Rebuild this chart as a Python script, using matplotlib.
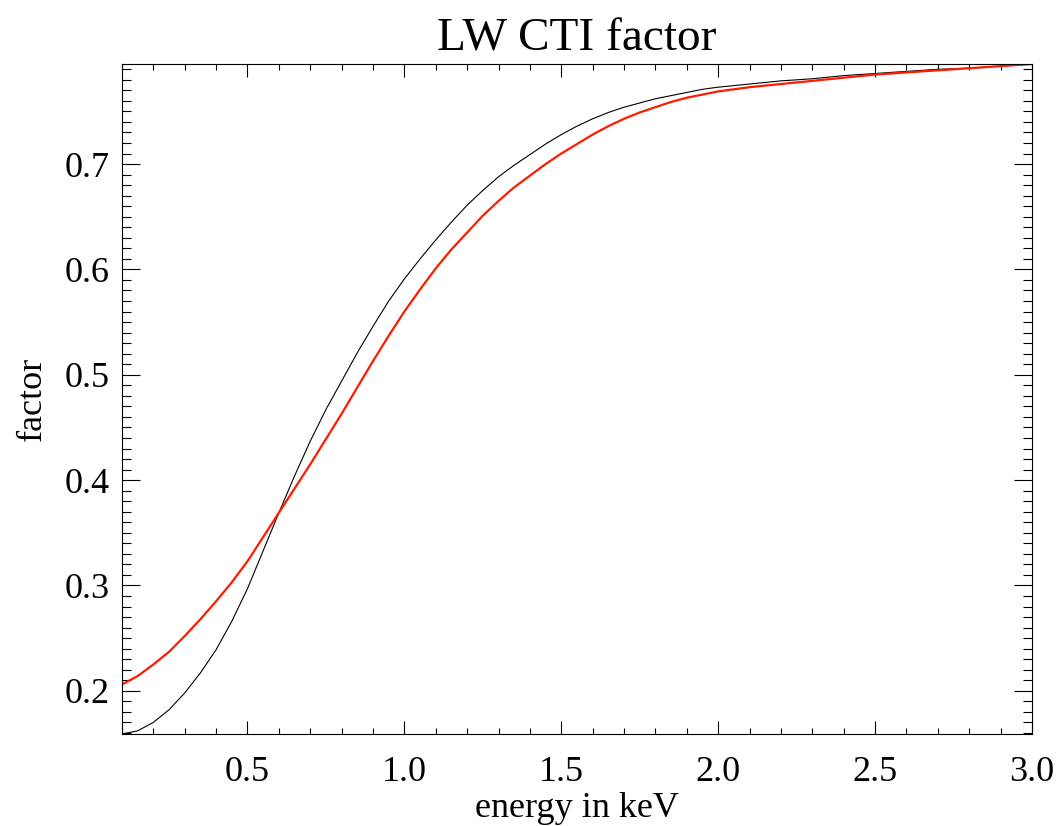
import matplotlib
matplotlib.use("Agg")
import matplotlib.pyplot as plt
from matplotlib.ticker import MultipleLocator, FormatStrFormatter

## Data (0.05 keV steps up to 2 keV, then 0.1)
energy = [0.10, 0.15, 0.20, 0.25, 0.30, 0.35, 0.40, 0.45, 0.50, 0.55,
          0.60, 0.65, 0.70, 0.75, 0.80, 0.85, 0.90, 0.95, 1.00, 1.05,
          1.10, 1.15, 1.20, 1.25, 1.30, 1.35, 1.40, 1.45, 1.50, 1.55,
          1.60, 1.65, 1.70, 1.75, 1.80, 1.85, 1.90, 1.95, 2.00, 2.10,
          2.20, 2.30, 2.40, 2.50, 2.60, 2.70, 2.80, 2.90, 3.00]
factor_black = [0.159, 0.162, 0.170, 0.182, 0.198, 0.217, 0.239, 0.266, 0.297, 0.333,
                0.369, 0.404, 0.437, 0.467, 0.494, 0.521, 0.546, 0.570, 0.591, 0.610,
                0.628, 0.645, 0.661, 0.675, 0.688, 0.699, 0.709, 0.719, 0.728, 0.736,
                0.743, 0.749, 0.754, 0.758, 0.762, 0.765, 0.768, 0.771, 0.773, 0.776,
                0.779, 0.781, 0.784, 0.786, 0.788, 0.790, 0.791, 0.793, 0.795]
factor_red = [0.206, 0.214, 0.225, 0.237, 0.252, 0.268, 0.285, 0.303, 0.323, 0.346,
              0.369, 0.392, 0.415, 0.439, 0.463, 0.488, 0.513, 0.537, 0.560, 0.581,
              0.601, 0.619, 0.635, 0.651, 0.665, 0.678, 0.689, 0.700, 0.710, 0.719,
              0.728, 0.736, 0.743, 0.749, 0.754, 0.759, 0.763, 0.766, 0.769, 0.773,
              0.776, 0.779, 0.782, 0.785, 0.787, 0.789, 0.791, 0.793, 0.795]

plt.rcParams['font.family'] = ['Liberation Serif', 'DejaVu Serif']

fig = plt.figure(figsize=(10.57, 8.26), dpi=100)
ax = fig.add_axes([0.1154, 0.1114, 0.8609, 0.8111])

ax.plot(energy, factor_black, color='black', lw=0.8)
ax.plot(energy, factor_red, color='#ff1a00', lw=1.6)

ax.set_xlim(0.1, 3.0)
ax.set_ylim(0.159, 0.795)

ax.xaxis.set_major_locator(MultipleLocator(0.5))
ax.xaxis.set_minor_locator(MultipleLocator(0.1))
ax.yaxis.set_major_locator(MultipleLocator(0.1))
ax.yaxis.set_minor_locator(MultipleLocator(0.01))
ax.xaxis.set_major_formatter(FormatStrFormatter('%.1f'))
ax.yaxis.set_major_formatter(FormatStrFormatter('%.1f'))

ax.tick_params(axis='both', which='both', direction='in', top=True, right=True,
               width=0.8, labelsize=26)
ax.tick_params(axis='x', which='major', length=9.5, pad=16)
ax.tick_params(axis='x', which='minor', length=4.5)
ax.tick_params(axis='y', which='major', length=13, pad=9)
ax.tick_params(axis='y', which='minor', length=6.5)
for s in ax.spines.values():
    s.set_linewidth(0.8)

ax.set_title('LW CTI factor', fontsize=34, pad=10)
ax.set_xlabel('energy in keV', fontsize=26, labelpad=2)
ax.set_ylabel('factor', fontsize=26, labelpad=11)

fig.savefig('out.png', dpi=100)
